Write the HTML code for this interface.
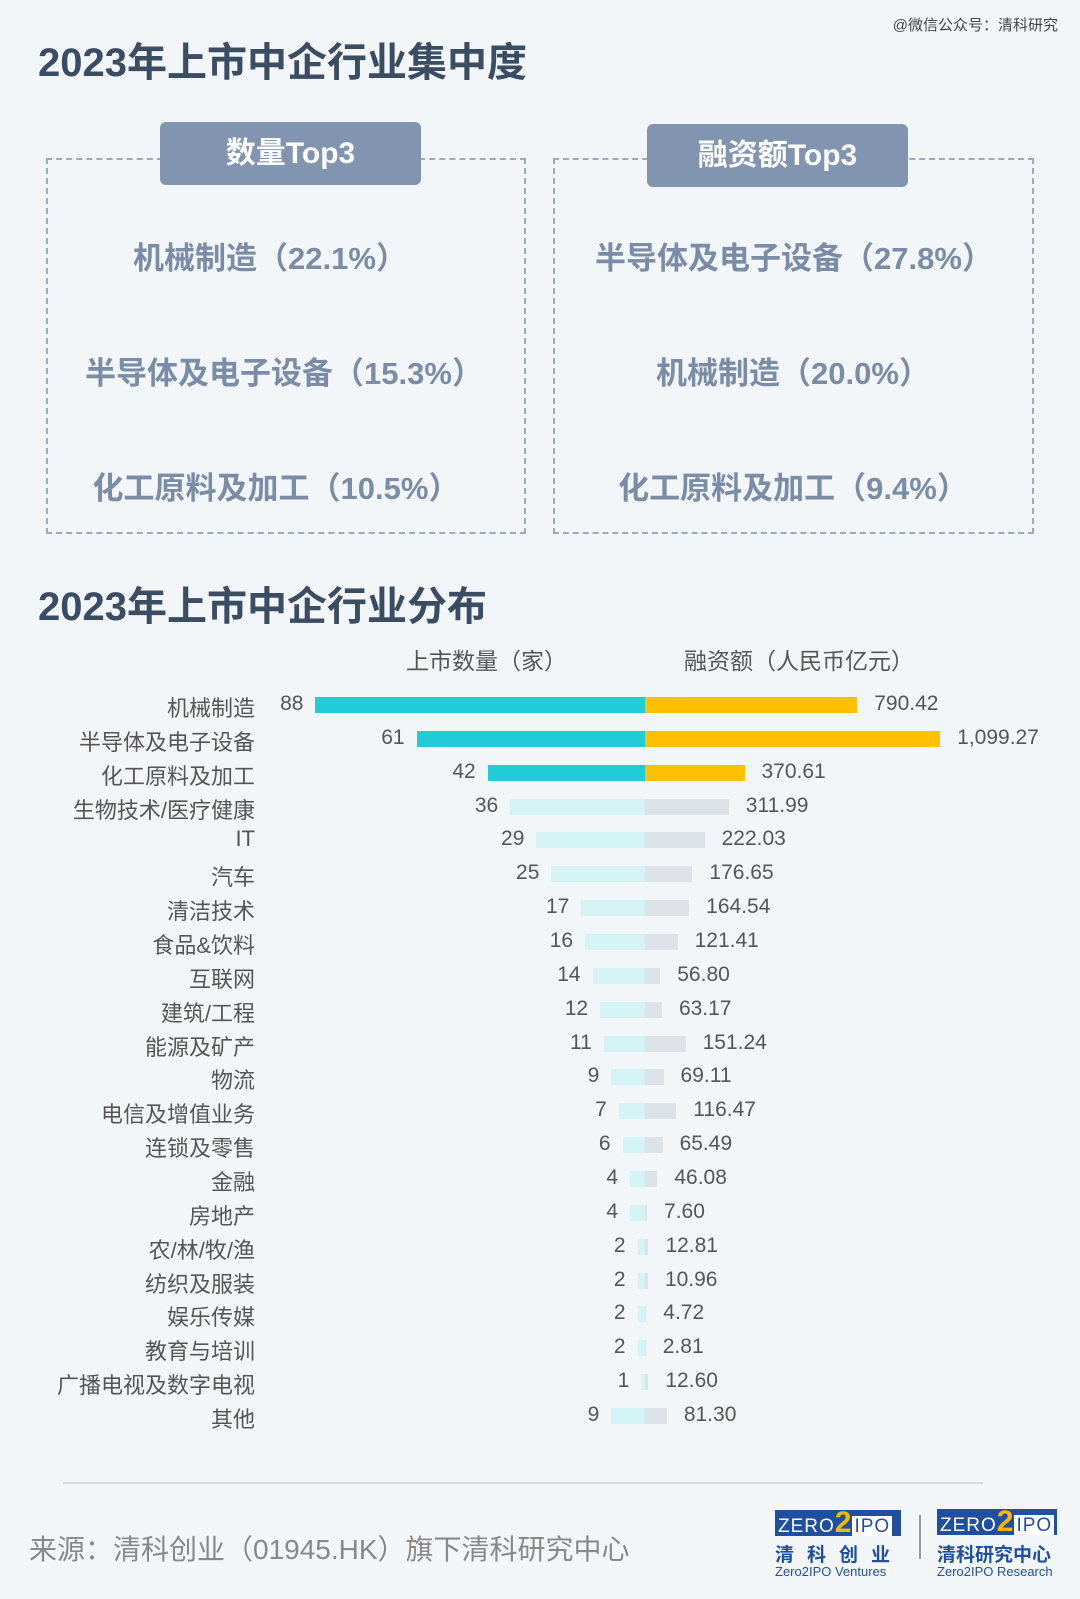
<!DOCTYPE html>
<html><head><meta charset="utf-8">
<style>
html,body{margin:0;padding:0}
body{width:1080px;height:1599px;background:#f3f6f9;position:relative;overflow:hidden;font-family:"Liberation Sans","Noto Sans CJK SC",sans-serif}
.a{position:absolute;white-space:nowrap}
.title{font-size:40px;font-weight:bold;color:#3b4d63;left:38px}
.box{position:absolute;border:2px dashed #9aaabf;box-sizing:border-box}
.tab{position:absolute;background:#8194b0;border-radius:6px;color:#fff;font-weight:bold;font-size:30px;text-align:center}
.item{position:absolute;font-size:31px;font-weight:bold;color:#7a8ca6;text-align:center;width:480px}
.cat{position:absolute;right:825px;font-size:22px;color:#555;text-align:right}
.num{position:absolute;font-size:21px;color:#555}
.bar{position:absolute;height:16px}
.logo{position:absolute;height:26px;background:#1f4f9e;color:#fff;font-size:19px;line-height:26px;letter-spacing:1px;padding-left:3px;box-sizing:border-box;overflow:hidden;white-space:nowrap}
</style></head><body>
<div class="a" style="right:22px;top:14px;font-size:15px;color:#444">@微信公众号：清科研究</div>
<div class="a title" style="top:30px">2023年上市中企行业集中度</div>
<div class="box" style="left:46px;top:158px;width:480px;height:376px"></div>
<div class="box" style="left:553px;top:158px;width:481px;height:376px"></div>
<div class="tab" style="left:160px;top:122px;width:261px;height:63px;line-height:63px">数量Top3</div>
<div class="tab" style="left:647px;top:124px;width:261px;height:63px;line-height:63px">融资额Top3</div>
<div class="item" style="left:30px;top:233px">机械制造（22.1%）</div>
<div class="item" style="left:44px;top:348px">半导体及电子设备（15.3%）</div>
<div class="item" style="left:36px;top:463px">化工原料及加工（10.5%）</div>
<div class="item" style="left:554px;top:233px">半导体及电子设备（27.8%）</div>
<div class="item" style="left:553px;top:348px">机械制造（20.0%）</div>
<div class="item" style="left:553px;top:463px">化工原料及加工（9.4%）</div>
<div class="a title" style="top:574px">2023年上市中企行业分布</div>
<div class="a" style="left:406px;top:642px;font-size:23px;color:#555">上市数量（家）</div>
<div class="a" style="left:684px;top:642px;font-size:23px;color:#555">融资额（人民币亿元）</div>
<div id="chart"></div>
<div class="a" style="left:63px;top:1482px;width:920px;height:2px;background:#d8d8d8"></div>
<div class="a" style="left:29px;top:1528px;font-size:28px;color:#888">来源：清科创业（01945.HK）旗下清科研究中心</div>
<div class="logo" style="left:775px;top:1510px;width:126px">ZERO<span style="color:#f5b800;font-weight:bold;font-size:30px">2</span><span style="background:#fff;color:#1f4f9e;padding:0 2px">IPO</span></div>
<div class="a" style="left:775px;top:1540px;font-size:19px;font-weight:bold;color:#1f4f9e;letter-spacing:13px">清科创业</div>
<div class="a" style="left:775px;top:1564px;font-size:13px;color:#1f4f9e">Zero2IPO Ventures</div>
<div class="a" style="left:919px;top:1515px;width:2px;height:44px;background:#999"></div>
<div class="logo" style="left:937px;top:1509px;width:120px">ZERO<span style="color:#f5b800;font-weight:bold;font-size:30px">2</span><span style="background:#fff;color:#1f4f9e;padding:0 2px">IPO</span></div>
<div class="a" style="left:937px;top:1540px;font-size:19px;font-weight:bold;color:#1f4f9e">清科研究中心</div>
<div class="a" style="left:937px;top:1564px;font-size:13px;color:#1f4f9e">Zero2IPO Research</div>
<script>
var cats=["机械制造","半导体及电子设备","化工原料及加工","生物技术/医疗健康","IT","汽车","清洁技术","食品&饮料","互联网","建筑/工程","能源及矿产","物流","电信及增值业务","连锁及零售","金融","房地产","农/林/牧/渔","纺织及服装","娱乐传媒","教育与培训","广播电视及数字电视","其他"];
var cnt=[88,61,42,36,29,25,17,16,14,12,11,9,7,6,4,4,2,2,2,2,1,9];
var amt=["790.42","1,099.27","370.61","311.99","222.03","176.65","164.54","121.41","56.80","63.17","151.24","69.11","116.47","65.49","46.08","7.60","12.81","10.96","4.72","2.81","12.60","81.30"];
var h="",C=645;
for(var i=0;i<22;i++){
 var y=705+i*33.86, v=parseFloat(amt[i].replace(",",""));
 var wl=cnt[i]*3.745, wr=v*0.2685;
 var lc=i<3?"#22ccd6":"#d3f3f5", rc=i<3?"#ffc000":"#dde1e8";
 h+='<div class="cat" style="top:'+(y-14)+'px">'+cats[i]+'</div>';
 h+='<div class="bar" style="left:'+(C-wl)+'px;width:'+wl+'px;top:'+(y-8)+'px;background:'+lc+'"></div>';
 h+='<div class="bar" style="left:'+C+'px;width:'+wr+'px;top:'+(y-8)+'px;background:'+rc+'"></div>';
 h+='<div class="num" style="right:'+(1080-(C-wl)+12)+'px;top:'+(y-13)+'px">'+cnt[i]+'</div>';
 h+='<div class="num" style="left:'+(C+wr+17)+'px;top:'+(y-13)+'px">'+amt[i]+'</div>';
}
document.getElementById("chart").innerHTML=h;
</script>
</body></html>
